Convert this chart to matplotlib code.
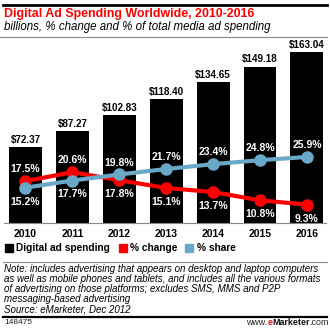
import matplotlib.pyplot as plt
from matplotlib.patches import Rectangle
from matplotlib.lines import Line2D

years = ["2010", "2011", "2012", "2013", "2014", "2015", "2016"]
spending = [72.37, 87.27, 102.83, 118.40, 134.65, 149.18, 163.04]
pct_change = [17.5, 20.6, 17.8, 15.1, 13.7, 10.8, 9.3]
pct_share = [15.2, 17.7, 19.8, 21.7, 23.4, 24.8, 25.9]

RED = "#ff0000"
BLUE = "#6aa8c8"
W, H = 330, 329
FONT = "Liberation Sans"

fig = plt.figure(figsize=(W / 100, H / 100), dpi=100)


def fx(px):
    return px / W


def fy(py):
    return 1 - py / H


def hline(y, x0, x1, color, lw):
    fig.add_artist(Line2D([fx(x0), fx(x1)], [fy(y), fy(y)], color=color, lw=lw,
                          transform=fig.transFigure))


# header
hline(4.5, 3, 327, "black", 2.0)
fig.text(fx(4), fy(14), "Digital Ad Spending Worldwide, 2010-2016", color=RED,
         fontsize=8.9, fontweight="bold", family=FONT, va="center", ha="left")
fig.text(fx(4), fy(27), "billions, % change and % of total media ad spending",
         fontsize=8.3, style="italic", family=FONT, va="center", ha="left")
hline(36.5, 0, 327, "#888888", 0.8)

# main chart
ax = fig.add_axes([fx(4), fy(223), fx(322), 180 / H])
x = list(range(len(years)))
ax.bar(x, spending, width=0.70, color="black", zorder=1)
for xi, v in zip(x, spending):
    ax.annotate(f"${v:.2f}", (xi, v), xytext=(0, 1.5), textcoords="offset points",
                ha="center", va="bottom", fontsize=7.1, fontweight="bold", family=FONT)
ax.set_xlim(-0.458, 6.407)
ax.set_ylim(0, 171.6)
ax.set_yticks([])
ax.set_xticks(x)
ax.set_xticklabels(years, fontsize=7.5, fontweight="bold", family=FONT)
ax.tick_params(axis="x", length=0, pad=4)
for s in ["top", "right", "left"]:
    ax.spines[s].set_visible(False)
ax.spines["bottom"].set_color("#888888")
ax.spines["bottom"].set_linewidth(0.8)

ax2 = ax.twinx()
ax2.set_ylim(2.9, 65.6)
ax2.axis("off")
ax2.plot(x, pct_change, color=RED, lw=3, marker="o", ms=8, zorder=3)
ax2.plot(x, pct_share, color=BLUE, lw=3, marker="o", ms=8, zorder=3)
for xi, c, s in zip(x, pct_change, pct_share):
    hi, lo = (c, s) if c > s else (s, c)
    ax2.annotate(f"{hi:.1f}%", (xi, hi), xytext=(0, 8.5), textcoords="offset points",
                 ha="center", va="center", color="white", fontsize=7.5,
                 fontweight="bold", family=FONT)
    ax2.annotate(f"{lo:.1f}%", (xi, lo), xytext=(0, -10), textcoords="offset points",
                 ha="center", va="center", color="white", fontsize=7.5,
                 fontweight="bold", family=FONT)

# legend
legend_items = [(5, 16, "black", "Digital ad spending"),
                (119, 130, RED, "% change"),
                (185, 197, BLUE, "% share")]
for sx, tx, col, label in legend_items:
    fig.add_artist(Rectangle((fx(sx), fy(252)), fx(8), 8 / H, color=col,
                             transform=fig.transFigure))
    fig.text(fx(tx), fy(248), label, fontsize=7.3, fontweight="bold", family=FONT,
             va="center", ha="left")

hline(262, 3, 327, "#888888", 0.8)

notes = ["Note: includes advertising that appears on desktop and laptop computers",
         "as well as mobile phones and tablets, and includes all the various formats",
         "of advertising on those platforms; excludes SMS, MMS and P2P",
         "messaging-based advertising",
         "Source: eMarketer, Dec 2012"]
for i, line in enumerate(notes):
    fig.text(fx(4), fy(269 + i * 10), line, fontsize=7.05, style="italic", family=FONT,
             va="center", ha="left")

hline(316.5, 3, 327, "black", 1.6)
fig.text(fx(4), fy(322.5), "148475", fontsize=6.0, family=FONT, va="center", ha="left",
         color="#222222")

# footer url built from pieces laid end to end
renderer = fig.canvas.get_renderer()
pieces = [("www.", "#222222", "normal"), ("e", RED, "bold"),
          ("Marketer", "#111111", "bold"), (".com", "#222222", "normal")]
cur = 246
for txt, col, wt in pieces:
    t = fig.text(fx(cur), fy(322.5), txt, fontsize=6.4, family=FONT, va="center",
                 ha="left", color=col, fontweight=wt)
    cur += t.get_window_extent(renderer).width

fig.savefig("out.png", dpi=100)
